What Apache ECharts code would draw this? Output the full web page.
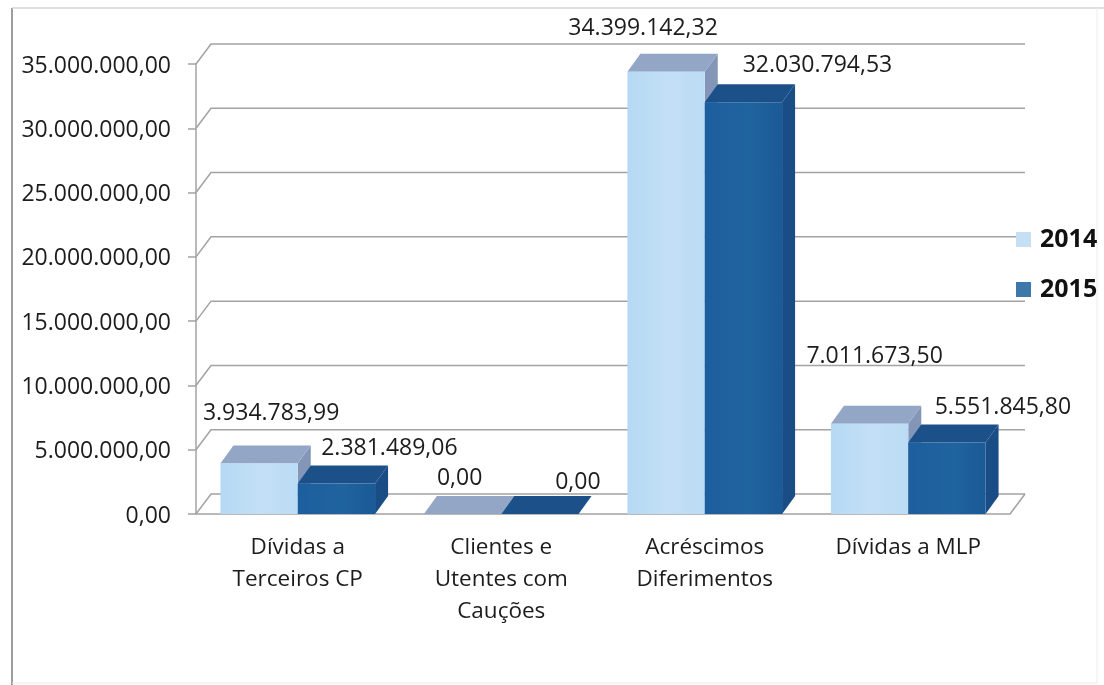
<!DOCTYPE html>
<html>
<head>
<meta charset="utf-8">
<style>
  html, body { margin: 0; padding: 0; background: #fff; }
  #chart { width: 1104px; height: 685px; }
</style>
<script src="https://cdn.jsdelivr.net/npm/echarts@6/dist/echarts.min.js"></script>
</head>
<body>
<div id="chart"></div>
<script>
const categories = ["Dívidas a\nTerceiros CP", "Clientes e\nUtentes com\nCauções", "Acréscimos\nDiferimentos", "Dívidas a MLP"];
const values2014 = [3934783.99, 0, 34399142.32, 7011673.50];
const values2015 = [2381489.06, 0, 32030794.53, 5551845.80];
const yTicks = [0, 5000000, 10000000, 15000000, 20000000, 25000000, 30000000, 35000000];

// where the scan puts each data label, relative to the top of its bar
const labelShift2014 = [[12, -50], [-3, -36], [-23, -43], [5, -67]];
const labelShift2015 = [[53, -35], [38, -32], [74, -37], [56, -35]];

const font = "'Open Sans', sans-serif";
const textColor = "#1c1c1c";
const wallColor = "#a3a3a3";
const wallDx = 15;
const wallDy = -20;
const barDx = 13;
const barDy = -18;

function ptNumber(v) {
  const parts = v.toFixed(2).split(".");
  return parts[0].replace(/\B(?=(\d{3})+$)/g, ".") + "," + parts[1];
}

function walls(params, api) {
  const rect = params.coordSys;
  const p = api.coord([0, api.value(1)]);
  const y = p[1];
  const children = [{
    type: "polyline",
    shape: { points: [[rect.x, y], [rect.x + wallDx, y + wallDy], [rect.x + rect.width + wallDx, y + wallDy]] },
    style: { stroke: wallColor, fill: null, lineWidth: 1.5 }
  }];
  if (api.value(1) === 0) {
    children.push({
      type: "line",
      shape: { x1: rect.x + rect.width, y1: y, x2: rect.x + rect.width + wallDx, y2: y + wallDy },
      style: { stroke: wallColor, lineWidth: 1.5 }
    });
  }
  return { type: "group", children: children };
}

function bar3d(side, colors, shifts) {
  return function (params, api) {
    const idx = params.dataIndex;
    const value = api.value(1);
    const top = api.coord([idx, value]);
    const base = api.coord([idx, 0]);
    const w = api.size([1, 0])[0] * 0.38;
    const x0 = side < 0 ? top[0] - w : top[0];
    const x1 = x0 + w;
    const shift = shifts[idx];
    return {
      type: "group",
      children: [
        {
          type: "polygon",
          shape: { points: [[x1, base[1]], [x1 + barDx, base[1] + barDy], [x1 + barDx, top[1] + barDy], [x1, top[1]]] },
          style: { fill: colors.side }
        },
        {
          type: "polygon",
          shape: { points: [[x0, top[1]], [x0 + barDx, top[1] + barDy], [x1 + barDx, top[1] + barDy], [x1, top[1]]] },
          style: { fill: colors.top }
        },
        {
          type: "rect",
          shape: { x: x0, y: top[1], width: w, height: base[1] - top[1] },
          style: {
            fill: {
              type: "linear", x: 0, y: 0, x2: 1, y2: 0,
              colorStops: colors.front
            }
          }
        },
        {
          type: "text",
          style: {
            x: x0 + w / 2 + shift[0],
            y: top[1] + shift[1],
            text: ptNumber(value),
            font: "23px " + font,
            fill: textColor,
            align: "center",
            verticalAlign: "middle"
          }
        }
      ]
    };
  };
}

const colors2014 = {
  side: "#8396b8",
  top: "#93a6c6",
  front: [
    { offset: 0, color: "#b5d9f4" },
    { offset: 0.5, color: "#c2dff6" },
    { offset: 1, color: "#bcdcf5" }
  ]
};
const colors2015 = {
  side: "#1a4d85",
  top: "#1c5089",
  front: [
    { offset: 0, color: "#1d5f9e" },
    { offset: 0.6, color: "#1f639f" },
    { offset: 1, color: "#1a5a96" }
  ]
};

const chart = echarts.init(document.getElementById("chart"), null, { renderer: "canvas" });
chart.setOption({
  animation: false,
  backgroundColor: "#ffffff",
  textStyle: { fontFamily: font },
  grid: { left: 196, right: 94, top: 64, bottom: 171 },
  legend: {
    data: ["2014", "2015"],
    orient: "vertical",
    left: 1011,
    top: 222,
    itemWidth: 15,
    itemHeight: 15,
    itemGap: 25,
    icon: "rect",
    textStyle: { fontSize: 25, fontWeight: "bold", fontFamily: font, color: "#111", padding: [0, 0, 0, 4] }
  },
  xAxis: {
    type: "category",
    data: categories,
    axisLine: { lineStyle: { color: wallColor, width: 1.5 } },
    axisTick: { length: 8, lineStyle: { color: wallColor, width: 1.5 } },
    axisLabel: { color: textColor, fontSize: 22.5, lineHeight: 32, margin: 18, interval: 0, fontFamily: font }
  },
  yAxis: {
    type: "value",
    min: 0,
    max: 35000000,
    interval: 5000000,
    splitLine: { show: false },
    axisLine: { show: true, lineStyle: { color: wallColor, width: 1.5 } },
    axisTick: { show: true, length: 8, lineStyle: { color: wallColor, width: 1.5 } },
    axisLabel: {
      margin: 25,
      formatter: v => "{v|" + ptNumber(v) + "}",
      rich: { v: { color: textColor, fontSize: 23, fontFamily: font, padding: [4, 0, 0, 0] } }
    }
  },
  graphic: [
    { type: "line", shape: { x1: 12, y1: 8, x2: 12, y2: 685 }, style: { stroke: "#7d7d7d", lineWidth: 1.5 } },
    { type: "line", shape: { x1: 12, y1: 8, x2: 1104, y2: 8 }, style: { stroke: "#d4d4d4", lineWidth: 1.5 } },
    { type: "line", shape: { x1: 12, y1: 683, x2: 1097, y2: 683 }, style: { stroke: "#ececec", lineWidth: 1 } },
    { type: "line", shape: { x1: 1097, y1: 8, x2: 1097, y2: 683 }, style: { stroke: "#ececec", lineWidth: 1 } }
  ],
  series: [
    { name: "grade", type: "custom", renderItem: walls, data: yTicks.map(v => [0, v]), encode: { x: 0, y: 1 }, clip: false, silent: true, z: 1 },
    { name: "2014", type: "custom", renderItem: bar3d(-1, colors2014, labelShift2014), data: values2014.map((v, i) => [i, v]), encode: { x: 0, y: 1 }, itemStyle: { color: "#c5dff5" }, clip: false, z: 2 },
    { name: "2015", type: "custom", renderItem: bar3d(1, colors2015, labelShift2015), data: values2015.map((v, i) => [i, v]), encode: { x: 0, y: 1 }, itemStyle: { color: "#3e78ab" }, clip: false, z: 3 }
  ]
});
</script>
</body>
</html>
